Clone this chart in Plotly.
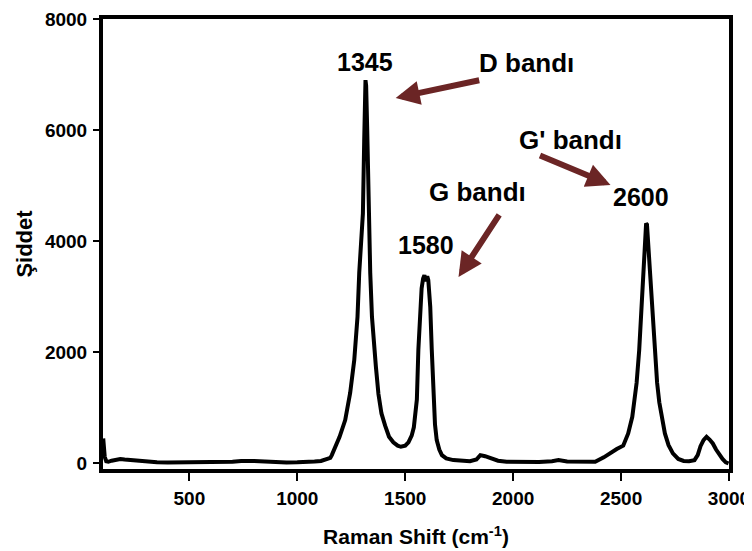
import plotly.graph_objects as go

# Raman spectrum
raman_shift = [101, 104, 108, 115, 125, 140, 160, 180, 200, 230, 260, 300, 350, 400, 450, 500,
               550, 600, 650, 700, 740, 770, 800, 850, 900, 950, 1000, 1050, 1080, 1110, 1140,
               1153, 1160, 1175, 1196, 1222, 1245, 1264, 1279, 1287, 1296, 1304, 1310, 1314,
               1316, 1319, 1324, 1330, 1338, 1346, 1355, 1364, 1376, 1390, 1407, 1425, 1445,
               1465, 1480, 1500, 1515, 1530, 1540, 1548, 1554, 1561, 1569, 1576, 1583, 1589,
               1596, 1602, 1607, 1612, 1616, 1623, 1631, 1638, 1646, 1658, 1670, 1690, 1723,
               1760, 1800, 1830, 1848, 1870, 1900, 1930, 1970, 2050, 2120, 2180, 2210, 2250,
               2320, 2380, 2420, 2450, 2480, 2510, 2533, 2552, 2563, 2572, 2584, 2592, 2598,
               2605, 2611, 2616, 2620, 2626, 2634, 2641, 2650, 2657, 2667, 2677, 2688, 2703,
               2720, 2740, 2765, 2790, 2815, 2840, 2855, 2868, 2882, 2896, 2910, 2925, 2940,
               2955, 2970, 2985, 2998]
intensity = [450, 300, 120, 40, 30, 50, 70, 80, 70, 60, 45, 30, 20, 15, 15, 15,
             20, 20, 25, 30, 45, 50, 45, 35, 20, 15, 20, 40, 35, 45, 80,
             100, 150, 280, 480, 780, 1270, 1860, 2640, 3430, 4100, 4500, 5800, 6600,
             6900, 6800, 6000, 4500, 3430, 2640, 2050, 1750, 1250, 900, 680, 480, 380,
             320, 300, 320, 380, 500, 650, 950, 1150, 2050, 2820, 3150, 3330, 3390,
             3280, 3370, 3300, 3100, 2820, 2050, 1150, 700, 420, 250, 150, 90, 60,
             50, 40, 70, 150, 130, 90, 50, 30, 20, 25, 40, 60, 35,
             25, 30, 110, 190, 260, 320, 540, 840, 1200, 1450, 2040, 2600, 2940,
             3600, 4100, 4320, 4300, 3900, 3500, 2940, 2450, 2040, 1450, 1100, 840, 540,
             330, 180, 80, 45, 40, 60, 150, 310, 420, 480, 430, 360, 250,
             160, 80, 20, 0]

x_ticks = [500, 1000, 1500, 2000, 2500, 3000]
y_ticks = [0, 2000, 4000, 6000, 8000]

# peak labels (text, x, y)
peak_labels = ["1345", "1580", "2600"]
peak_label_x = [1312, 1595, 2594]
peak_label_y = [7227, 3933, 4797]

band_labels = ["D bandı", "G bandı", "G' bandı"]
band_label_x = [2062, 1835, 2266]
band_label_y = [7209, 4887, 5823]

# arrow tips (data) and tail offsets (pixels)
arrow_tip_x = [1456, 1747, 2451]
arrow_tip_y = [6579, 3357, 5013]
arrow_ax = [85, 42, -72]
arrow_ay = [-18, -64, -30]

fig = go.Figure()
fig.add_trace(go.Scatter(x=raman_shift, y=intensity, mode="lines",
                         line=dict(color="black", width=4), showlegend=False,
                         hoverinfo="skip"))

FONT = "Liberation Sans, Arial, sans-serif"
annotations = []
for t, x, y in zip(peak_labels, peak_label_x, peak_label_y):
    annotations.append(dict(x=x, y=y, text=t, showarrow=False, xanchor="center",
                            yanchor="middle",
                            font=dict(family=FONT, size=25, color="black", weight="bold")))
for t, x, y in zip(band_labels, band_label_x, band_label_y):
    annotations.append(dict(x=x, y=y, text=t, showarrow=False, xanchor="center",
                            yanchor="middle",
                            font=dict(family=FONT, size=26, color="black", weight="bold")))
for x, y, ax, ay in zip(arrow_tip_x, arrow_tip_y, arrow_ax, arrow_ay):
    annotations.append(dict(x=x, y=y, ax=ax, ay=ay, text=" ", showarrow=True,
                            arrowhead=2, arrowsize=0.8, arrowwidth=6,
                            arrowcolor="#6B2525", standoff=0,
                            font=dict(size=1)))

# the page body adds an 8px offset, so the figure is 8px smaller and margins shifted
fig.update_layout(
    width=744, height=543,
    margin=dict(l=95, r=23, t=11, b=82, autoexpand=False),
    paper_bgcolor="white", plot_bgcolor="white",
    font=dict(family=FONT, color="black"),
    annotations=annotations,
    xaxis=dict(range=[100, 3000], tickvals=x_ticks, showgrid=False, zeroline=False,
               automargin=False,
               showline=True, linecolor="black", linewidth=4, mirror=True,
               ticks="outside", ticklen=8, tickwidth=1.5, tickcolor="black",
               ticklabelstandoff=1,
               tickfont=dict(family=FONT, size=19, color="black", weight="bold"),
               title=dict(text="Raman Shift (cm<sup>-1</sup>)", standoff=23,
                          font=dict(family=FONT, size=21, color="black", weight="bold"))),
    yaxis=dict(range=[-100, 8000], tickvals=y_ticks, showgrid=False, zeroline=False,
               automargin=False,
               showline=True, linecolor="black", linewidth=4, mirror=True,
               ticks="outside", ticklen=6, tickwidth=1.5, tickcolor="black",
               ticklabelstandoff=2,
               tickfont=dict(family=FONT, size=19, color="black", weight="bold"),
               title=dict(text="Şiddet", standoff=7,
                          font=dict(family=FONT, size=22, color="black", weight="bold"))),
)

fig.write_html("out.html")
